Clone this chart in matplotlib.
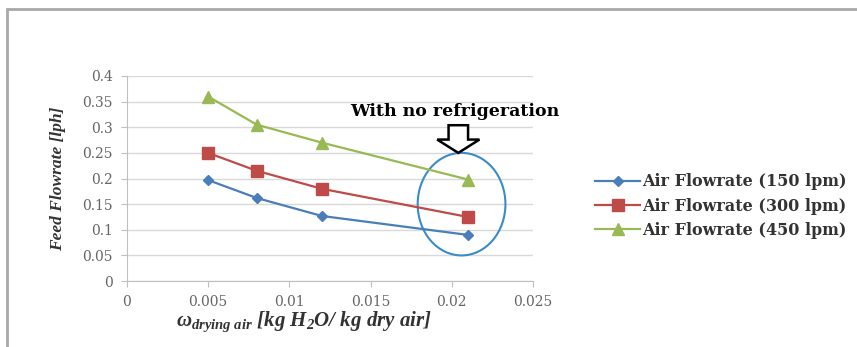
import matplotlib
matplotlib.use("Agg")
import matplotlib.pyplot as plt
from matplotlib.patches import Ellipse, Rectangle, FancyArrow

plt.rcParams['font.family'] = ['Liberation Serif', 'DejaVu Serif']
plt.rcParams['mathtext.fontset'] = 'custom'
plt.rcParams['mathtext.rm'] = 'Liberation Serif:bold:italic'
plt.rcParams['mathtext.it'] = 'Liberation Serif:bold:italic'
plt.rcParams['mathtext.bf'] = 'Liberation Serif:bold:italic'

# humidity ratio of drying air (kg H2O / kg dry air)
omega = [0.005, 0.008, 0.012, 0.021]
flow_150 = [0.197, 0.162, 0.127, 0.090]
flow_300 = [0.250, 0.215, 0.180, 0.125]
flow_450 = [0.360, 0.305, 0.270, 0.198]
labels = ['Air Flowrate (150 lpm)', 'Air Flowrate (300 lpm)', 'Air Flowrate (450 lpm)']

fig = plt.figure(figsize=(8.57, 3.47), dpi=100)
ax = fig.add_axes([0.148, 0.19, 0.474, 0.591])

# outer frame of the pasted chart
fig.patches.append(Rectangle((7/857, -0.1), 1.2, 1 - 9/347 + 0.1, transform=fig.transFigure,
                             fill=False, edgecolor='#a8a8a8', linewidth=2.0))

ax.plot(omega, flow_150, color='#4a7ebb', marker='D', markersize=5.5, linewidth=1.6, label=labels[0])
ax.plot(omega, flow_300, color='#be4b48', marker='s', markersize=9, linewidth=1.6, label=labels[1])
ax.plot(omega, flow_450, color='#98b954', marker='^', markersize=8, linewidth=1.6, label=labels[2])

ax.set_xlim(0, 0.025)
ax.set_ylim(0, 0.4)
ax.set_xticks([0, 0.005, 0.01, 0.015, 0.02, 0.025])
ax.set_xticklabels(['0', '0.005', '0.01', '0.015', '0.02', '0.025'])
ax.set_yticks([0, 0.05, 0.1, 0.15, 0.2, 0.25, 0.3, 0.35, 0.4])
ax.set_yticklabels(['0', '0.05', '0.1', '0.15', '0.2', '0.25', '0.3', '0.35', '0.4'])
ax.grid(axis='y', color='#d9d9d9', linewidth=1.0)
ax.set_axisbelow(True)
for s in ['top', 'right']:
    ax.spines[s].set_visible(False)
for s in ['left', 'bottom']:
    ax.spines[s].set_color('#bfbfbf')
ax.tick_params(colors='#bfbfbf', labelcolor='#666666', length=4)
for lab in ax.get_xticklabels() + ax.get_yticklabels():
    lab.set_family('DejaVu Serif')
    lab.set_fontsize(10)
ax.tick_params(axis='x', pad=6)
ax.tick_params(axis='y', pad=6)

ax.set_ylabel('Feed Flowrate [lph]', fontsize=12.5, fontweight='bold', style='italic', color='#333333')
ax.yaxis.set_label_coords(-0.15, 0.5)
ax.set_xlabel(r'$\omega_{drying\ air}$ [kg H$_2$O/ kg dry air]', fontsize=15,
              fontweight='bold', style='italic', color='#333333')
ax.xaxis.set_label_coords(0.436, -0.14)

# annotation for the no-refrigeration case
ax.add_patch(Ellipse((0.0206, 0.150), 0.0054, 0.200, fill=False, edgecolor='#3a8cc6', linewidth=1.5))
ax.add_patch(FancyArrow(0.0204, 0.304, 0, -0.054, width=0.0012, head_width=0.0026,
                        head_length=0.026, length_includes_head=True,
                        facecolor='white', edgecolor='black', linewidth=1.8))
ax.text(0.0202, 0.330, 'With no refrigeration', ha='center', va='center',
        fontsize=12.5, fontweight='bold', color='black', family='DejaVu Serif')

fig.legend(loc='center left', bbox_to_anchor=(0.678, 0.406), frameon=False,
           prop={'family': 'DejaVu Serif', 'weight': 'bold', 'size': 11.5},
           handlelength=2.8, handletextpad=0.1, labelspacing=0.45,
           labelcolor='#333333')

fig.savefig('out.png', dpi=100)
